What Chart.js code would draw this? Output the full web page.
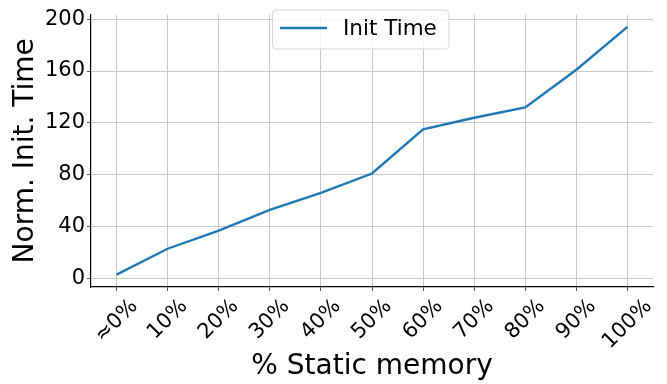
<!DOCTYPE html>
<html>
<head>
<meta charset="utf-8">
<script src="https://cdn.jsdelivr.net/npm/chart.js@4/dist/chart.umd.min.js"></script>
<style>
  html, body { margin: 0; padding: 0; background: #fff; }
  #chart { display: block; }
</style>
</head>
<body>
<canvas id="chart" width="667" height="384"></canvas>
<script>
const categories = ['≈0%', '10%', '20%', '30%', '40%', '50%', '60%', '70%', '80%', '90%', '100%'];
const initTime = [3, 23, 37, 53, 66, 81, 115, 124, 132, 161, 194];
const yTicks = [0, 40, 80, 120, 160, 200];

const FONT = "'DejaVu Sans', sans-serif";
const BLUE = '#1f77b4';
const GRID = '#c8c8c8';

// matplotlib-style x labels: rotated 45deg, centred under each tick
const rotatedLabels = {
  id: 'rotatedLabels',
  afterDraw(chart) {
    const ctx = chart.ctx;
    const x = chart.scales.x;
    ctx.save();
    ctx.font = '21px ' + FONT;
    ctx.fillStyle = '#000';
    ctx.textAlign = 'center';
    ctx.textBaseline = 'middle';
    const s = Math.SQRT1_2;
    categories.forEach((lab, i) => {
      const px = x.getPixelForTick(i);
      const w = ctx.measureText(lab).width;
      const h = 17;
      const half = (w + h) * s / 2;
      ctx.save();
      ctx.translate(px, x.top + 10 + half);
      ctx.rotate(-Math.PI / 4);
      ctx.fillText(lab, 0, 0);
      ctx.restore();
    });
    ctx.restore();
  }
};

// legend box inside the axes, upper centre
const innerLegend = {
  id: 'innerLegend',
  afterDraw(chart) {
    const ctx = chart.ctx;
    const ds = chart.data.datasets[0];
    const x0 = 272.5, y0 = 10, w = 176.5, h = 39;
    ctx.save();
    ctx.beginPath();
    ctx.roundRect(x0, y0, w, h, 4);
    ctx.fillStyle = 'rgba(255,255,255,0.8)';
    ctx.fill();
    ctx.strokeStyle = '#d6d6d6';
    ctx.lineWidth = 1;
    ctx.stroke();
    ctx.beginPath();
    ctx.moveTo(280, 28);
    ctx.lineTo(327, 28);
    ctx.strokeStyle = ds.borderColor;
    ctx.lineWidth = 2.4;
    ctx.stroke();
    ctx.font = '21.5px ' + FONT;
    ctx.fillStyle = '#000';
    ctx.textBaseline = 'middle';
    ctx.fillText(ds.label, 343, 29);
    ctx.restore();
  }
};

new Chart(document.getElementById('chart'), {
  type: 'line',
  data: {
    labels: categories,
    datasets: [{
      label: 'Init Time',
      data: initTime,
      borderColor: BLUE,
      backgroundColor: BLUE,
      borderWidth: 2.4,
      pointRadius: 0,
      tension: 0,
      fill: false
    }]
  },
  options: {
    responsive: false,
    animation: false,
    devicePixelRatio: 1,
    layout: { padding: { top: 13, right: 14, left: 0, bottom: 0 } },
    plugins: { legend: { display: false }, tooltip: { enabled: false } },
    scales: {
      x: {
        type: 'category',
        offset: true,
        grid: { offset: false, color: GRID, lineWidth: 1, tickLength: 4, tickColor: '#555' },
        border: { color: '#000', width: 1.2 },
        ticks: { display: false },
        title: {
          display: true,
          text: '% Static memory',
          font: { family: FONT, size: 28 },
          color: '#000',
          padding: { top: 0, bottom: 0 }
        },
        afterFit(scale) { scale.height = 97; }
      },
      y: {
        min: -6.5,
        max: 203.5,
        afterBuildTicks(scale) { scale.ticks = yTicks.map(v => ({ value: v })); },
        grid: { color: GRID, lineWidth: 1, tickLength: 4, tickColor: '#555' },
        border: { color: '#000', width: 1.2 },
        ticks: {
          font: { family: FONT, size: 21 },
          color: '#000',
          padding: 2
        },
        title: {
          display: true,
          text: 'Norm. Init. Time',
          font: { family: FONT, size: 28 },
          color: '#000',
          padding: { top: 9, bottom: 0 }
        },
        afterFit(scale) { scale.width = 91; }
      }
    }
  },
  plugins: [rotatedLabels, innerLegend]
});
</script>
</body>
</html>
